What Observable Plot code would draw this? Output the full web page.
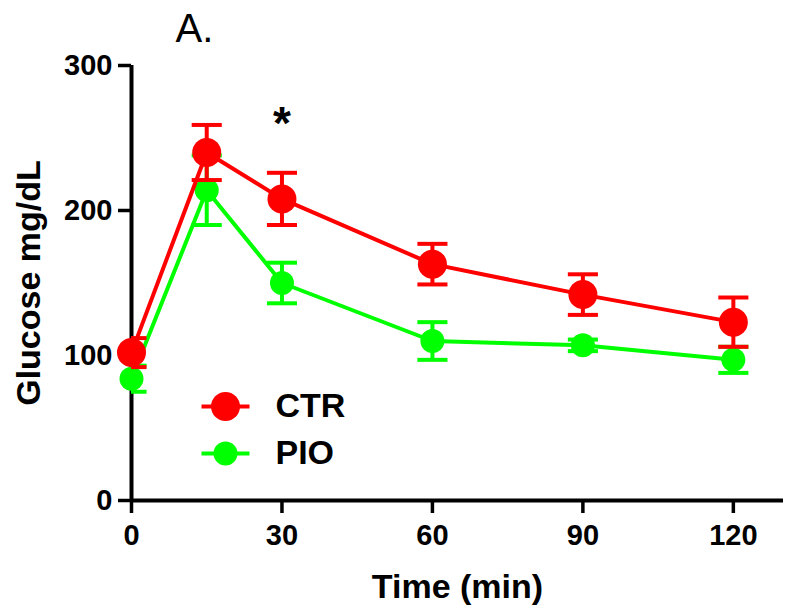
<!DOCTYPE html>
<html><head><meta charset="utf-8">
<script src="https://cdn.jsdelivr.net/npm/d3@7"></script>
<script src="https://cdn.jsdelivr.net/npm/@observablehq/plot@0.6"></script>
<style>
body{margin:0;background:#fff}
#chart{width:800px;height:615px}
#chart svg g[aria-label='y-axis tick label'] text,
#chart svg g[aria-label='x-axis tick label'] text { font-size: 29px !important; font-weight: bold !important; }
#chart svg g[aria-label='y-axis label'] text,
#chart svg g[aria-label='x-axis label'] text { font-size: 34px !important; font-weight: bold !important; }
</style>
</head><body><div id="chart"></div>
<script>
const times = [0, 15, 30, 60, 90, 120];
const ctrMean = [102, 240, 208, 163, 142, 123];
const ctrSem = [10, 19, 18, 14, 14, 17];
const pioMean = [84, 214, 150, 110, 107, 97];
const pioSem = [9, 24, 14, 13, 4, 9];
const groups = ["CTR", "PIO"];
const colors = ["#ff0000", "#00ff00"];
const radii = [14.5, 12];
const xTicks = [0, 30, 60, 90, 120];
const yTicks = [0, 100, 200, 300];
const significantTimes = [30];

const series = {CTR: {mean: ctrMean, sem: ctrSem}, PIO: {mean: pioMean, sem: pioSem}};
const rows = [];
groups.forEach(g => times.forEach((t, i) => rows.push({group: g, t, mean: series[g].mean[i], sem: series[g].sem[i]})));
const capHalf = 3;
const font = "'Liberation Sans', Arial, sans-serif";

const lineSymbol = {draw(ctx) { ctx.moveTo(-24, 0); ctx.lineTo(24, 0); }};

const drawOrder = ["PIO", "CTR"];
const seriesMarks = drawOrder.flatMap(g => {
  const gi = groups.indexOf(g);
  const d = rows.filter(r => r.group === g);
  return [
    Plot.line(d, {x: "t", y: "mean", stroke: colors[gi], strokeWidth: 4}),
    Plot.ruleX(d, {x: "t", y1: r => r.mean - r.sem, y2: r => r.mean + r.sem, stroke: colors[gi], strokeWidth: 4, clip: true}),
    Plot.link(d, {x1: r => r.t - capHalf, x2: r => r.t + capHalf, y1: r => r.mean + r.sem, y2: r => r.mean + r.sem, stroke: colors[gi], strokeWidth: 4, clip: true}),
    Plot.link(d, {x1: r => r.t - capHalf, x2: r => r.t + capHalf, y1: r => r.mean - r.sem, y2: r => r.mean - r.sem, stroke: colors[gi], strokeWidth: 4, clip: true}),
    Plot.dot(d, {x: "t", y: "mean", r: radii[gi], fill: colors[gi], stroke: "none"})
  ];
});

const legendMarks = groups.flatMap((g, i) => [
  Plot.dot([g], {frameAnchor: "top-left", dx: 94, dy: 341 + 47 * i, symbol: lineSymbol, r: 1, stroke: colors[i], strokeWidth: 4, fill: "none"}),
  Plot.dot([g], {frameAnchor: "top-left", dx: 94, dy: 341 + 47 * i, r: radii[i], fill: colors[i], stroke: "none"}),
  Plot.text([g], {frameAnchor: "top-left", dx: 144, dy: 341 + 47 * i, text: d => d, textAnchor: "start", lineAnchor: "middle", fontSize: 34, fontWeight: "bold", fill: "#000"})
]);

const sig = rows.filter(r => r.group === "CTR" && significantTimes.includes(r.t));

const chart = Plot.plot({
  width: 800, height: 615,
  marginLeft: 131, marginRight: 17, marginTop: 65, marginBottom: 115,
  style: {fontFamily: font, background: "#fff", color: "#000", overflow: "visible"},
  x: {domain: [0, 130]},
  y: {domain: [0, 300]},
  marks: [
    Plot.axisY({ticks: yTicks, tickSize: 13, tickPadding: 6, strokeWidth: 3.5, fontSize: 29, fontWeight: "bold", tickFormat: d => String(d),
      label: "Glucose mg/dL", labelAnchor: "center", labelArrow: "none", labelOffset: 116}),
    Plot.axisX({ticks: xTicks, tickSize: 13, tickPadding: 11, strokeWidth: 3.5, fontSize: 29, fontWeight: "bold", tickFormat: d => String(d),
      label: "Time (min)", labelAnchor: "center", labelArrow: "none", labelOffset: 97}),
    Plot.ruleX([0], {strokeWidth: 4}),
    Plot.ruleY([0], {strokeWidth: 4}),
    ...seriesMarks,
    ...legendMarks,
    Plot.text(sig, {x: "t", y: r => r.mean + r.sem, dy: -49, text: () => "*", fontSize: 46, fontWeight: "bold", lineAnchor: "middle", fill: "#000"}),
    Plot.text(["A."], {frameAnchor: "top-left", dx: 44, dy: -52, text: d => d, textAnchor: "start", lineAnchor: "top", fontSize: 40, fill: "#000"})
  ]
});
document.getElementById("chart").appendChild(chart);
</script>
</body></html>
